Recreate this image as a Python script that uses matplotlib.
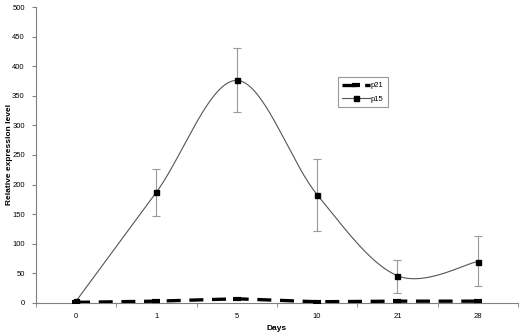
import matplotlib.pyplot as plt
import numpy as np

plt.rcParams["font.family"] = ["Liberation Sans", "DejaVu Sans"]

days = ["0", "1", "5", "10", "21", "28"]
p15 = [3, 187, 376, 183, 46, 70]
p15_err_lo = [0, 40, 54, 61, 29, 42]
p15_err_hi = [0, 39, 54, 60, 27, 43]
p21 = [1, 3, 7, 2, 3, 3]

GRAY = "#808080"


def excel_smooth(xs, ys, n=40):
    """Bezier smoothing the way spreadsheet 'smoothed lines' draw it."""
    pts = np.column_stack([xs, ys]).astype(float)
    out = []
    for i in range(len(pts) - 1):
        p0 = pts[i - 1] if i > 0 else pts[i]
        p1, p2 = pts[i], pts[i + 1]
        p3 = pts[i + 2] if i + 2 < len(pts) else pts[i + 1]
        c1 = p1 + (p2 - p0) / 6
        c2 = p2 - (p3 - p1) / 6
        t = np.linspace(0, 1, n)[:, None]
        seg = (1 - t) ** 3 * p1 + 3 * (1 - t) ** 2 * t * c1 + 3 * (1 - t) * t ** 2 * c2 + t ** 3 * p2
        out.append(seg if i == 0 else seg[1:])
    seg = np.vstack(out)
    return seg[:, 0], seg[:, 1]


x = np.arange(len(days))

fig = plt.figure(figsize=(5.2, 3.34), dpi=100)
ax = fig.add_axes([0.069, 0.093, 0.927, 0.886])

sx, sy = excel_smooth(x, p15)
ax.plot(sx, sy, color="#555555", lw=0.8, zorder=2)
ax.errorbar(x, p15, yerr=[p15_err_lo, p15_err_hi], fmt="none", ecolor="#999999",
            elinewidth=0.8, capsize=3, capthick=0.8, zorder=1)
ax.plot(x, p15, ls="none", marker="s", ms=3.6, color="black", zorder=3)
h15, = ax.plot([], [], color="#555555", lw=0.8, marker="s", ms=3.6, mfc="black", mec="black")

ax.plot(x, p21, color="black", lw=2.4, dashes=(4.2, 2.6), marker="_", ms=6, mew=3, zorder=3)
h21, = ax.plot([], [], color="black", lw=2.4, dashes=(4.2, 2.6), marker="_", ms=6, mew=3)

ax.set_xlim(-0.5, 5.5)
ax.set_ylim(0, 500)
ax.set_yticks(np.arange(0, 501, 50))
ax.set_xticks(x)
ax.set_xticklabels(days)
ax.set_xticks(np.arange(-0.5, 5.6, 1), minor=True)
ax.tick_params(axis="x", which="major", length=0, labelsize=5.5, pad=7)
ax.tick_params(axis="x", which="minor", length=3, color=GRAY, direction="out")
ax.tick_params(axis="y", length=3, color=GRAY, labelsize=5.5, pad=5)

for side in ["top", "right"]:
    ax.spines[side].set_visible(False)
for side in ["left", "bottom"]:
    ax.spines[side].set_color(GRAY)
    ax.spines[side].set_linewidth(0.8)

ax.set_xlabel("Days", fontsize=6, fontweight="bold")
ax.xaxis.set_label_coords(0.5, -0.075)
ax.set_ylabel("Relative expression level", fontsize=6, fontweight="bold")
ax.yaxis.set_label_coords(-0.048, 0.5)

leg = ax.legend([h21, h15], ["p21", "p15"], loc="upper left", bbox_to_anchor=(0.618, 0.775),
                fontsize=5.5, frameon=True, fancybox=False, handlelength=3.6,
                handletextpad=0.1, borderpad=0.6, labelspacing=0.8)
leg.get_frame().set_edgecolor(GRAY)
leg.get_frame().set_linewidth(0.8)

fig.savefig("out.png", dpi=100)
